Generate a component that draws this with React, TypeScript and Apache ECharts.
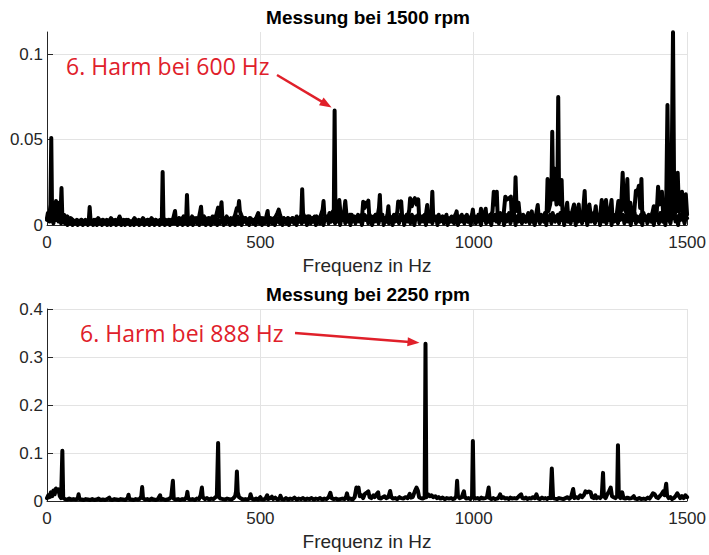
import React, { useEffect, useRef } from "react";
import * as echarts from "echarts";

const topTitle = "Messung bei 1500 rpm";
const bottomTitle = "Messung bei 2250 rpm";
const xAxisLabel = "Frequenz in Hz";
const xTicks = [0, 500, 1000, 1500];
const topYTicks = [0, 0.05, 0.1];
const bottomYTicks = [0, 0.1, 0.2, 0.3, 0.4];
const topNote = "6. Harm bei 600 Hz";
const bottomNote = "6. Harm bei 888 Hz";
const topPeak = [674, 0.067];
const bottomPeak = [887, 0.3275];

// [frequency in Hz, magnitude] — 1500 rpm
const topSpectrum = [
  [0, 0.004], [2, 0.007], [5, 0.003], [8, 0.012], [10, 0.051], [12, 0.004], [15, 0.01], [18, 0.006], [21, 0.014], [23, 0.008],
  [26, 0.013], [29, 0.005], [32, 0.009], [34, 0.0216], [36, 0.004], [40, 0.006], [44, 0.003], [48, 0.005], [52, 0.002], [56, 0.004],
  [60, 0.003], [65, 0.002], [70, 0.003], [75, 0.002], [80, 0.003], [85, 0.002], [90, 0.003], [95, 0.002], [98, 0.003], [100, 0.0105],
  [102, 0.003], [106, 0.002], [110, 0.003], [115, 0.002], [120, 0.004], [125, 0.002], [130, 0.003], [135, 0.002], [140, 0.003], [145, 0.002],
  [150, 0.004], [155, 0.002], [160, 0.003], [165, 0.002], [170, 0.005], [175, 0.002], [180, 0.003], [185, 0.002], [190, 0.003], [195, 0.002],
  [200, 0.002], [205, 0.004], [210, 0.002], [215, 0.003], [220, 0.002], [225, 0.004], [230, 0.002], [235, 0.003], [240, 0.002], [245, 0.004],
  [250, 0.002], [255, 0.003], [260, 0.002], [265, 0.003], [269, 0.002], [271, 0.031], [273, 0.002], [278, 0.003], [283, 0.002], [288, 0.003],
  [292, 0.002], [296, 0.004], [300, 0.0082], [302, 0.003], [306, 0.002], [310, 0.004], [315, 0.003], [320, 0.005], [326, 0.003], [328, 0.0176],
  [330, 0.004], [335, 0.003], [340, 0.005], [345, 0.002], [350, 0.004], [355, 0.003], [359, 0.008], [361, 0.0107], [363, 0.004], [368, 0.005],
  [373, 0.003], [378, 0.004], [383, 0.002], [388, 0.005], [393, 0.003], [397, 0.006], [401, 0.0102], [404, 0.005], [407, 0.009], [409, 0.0133],
  [411, 0.004], [416, 0.003], [421, 0.005], [426, 0.002], [431, 0.004], [436, 0.003], [441, 0.006], [445, 0.01], [448, 0.009], [450, 0.014],
  [452, 0.008], [455, 0.006], [460, 0.003], [465, 0.004], [470, 0.002], [475, 0.004], [480, 0.003], [485, 0.002], [490, 0.004], [495, 0.007],
  [498, 0.003], [503, 0.004], [508, 0.002], [513, 0.004], [517, 0.0082], [519, 0.003], [524, 0.004], [529, 0.002], [534, 0.004], [540, 0.007],
  [543, 0.009], [546, 0.006], [550, 0.003], [555, 0.004], [560, 0.002], [565, 0.004], [570, 0.003], [575, 0.004], [580, 0.002], [585, 0.005],
  [590, 0.003], [594, 0.004], [596, 0.006], [598, 0.021], [600, 0.007], [603, 0.004], [607, 0.003], [612, 0.005], [617, 0.002], [622, 0.004],
  [627, 0.003], [632, 0.005], [637, 0.002], [642, 0.006], [646, 0.009], [648, 0.014], [650, 0.006], [654, 0.004], [658, 0.003], [662, 0.007],
  [666, 0.004], [670, 0.008], [672, 0.005], [674, 0.067], [676, 0.006], [680, 0.007], [683, 0.009], [685, 0.0146], [688, 0.006], [692, 0.004],
  [696, 0.007], [699, 0.014], [702, 0.005], [706, 0.003], [710, 0.006], [715, 0.002], [720, 0.004], [725, 0.003], [730, 0.005], [735, 0.004],
  [739, 0.007], [741, 0.0136], [744, 0.01], [747, 0.013], [750, 0.011], [753, 0.0143], [755, 0.006], [760, 0.004], [765, 0.003], [770, 0.006],
  [774, 0.004], [778, 0.01], [780, 0.0176], [782, 0.005], [786, 0.003], [790, 0.004], [795, 0.003], [798, 0.006], [800, 0.011], [802, 0.004],
  [807, 0.003], [812, 0.005], [817, 0.003], [821, 0.008], [823, 0.0138], [826, 0.011], [830, 0.0138], [832, 0.006], [836, 0.004], [841, 0.003],
  [846, 0.005], [849, 0.009], [851, 0.0157], [855, 0.011], [858, 0.014], [862, 0.0157], [866, 0.012], [870, 0.015], [872, 0.005], [877, 0.003],
  [882, 0.005], [887, 0.004], [889, 0.008], [891, 0.0117], [893, 0.004], [898, 0.003], [901, 0.008], [903, 0.0195], [905, 0.005], [910, 0.003],
  [915, 0.004], [920, 0.002], [925, 0.003], [930, 0.002], [935, 0.004], [940, 0.002], [945, 0.003], [950, 0.002], [955, 0.004], [960, 0.008],
  [962, 0.003], [967, 0.002], [972, 0.004], [977, 0.002], [982, 0.003], [987, 0.002], [992, 0.004], [996, 0.006], [998, 0.009], [1000, 0.004],
  [1005, 0.002], [1010, 0.003], [1015, 0.005], [1017, 0.0095], [1020, 0.004], [1025, 0.006], [1028, 0.0095], [1030, 0.004], [1035, 0.003], [1040, 0.005],
  [1044, 0.008], [1047, 0.0195], [1050, 0.012], [1054, 0.0195], [1056, 0.006], [1060, 0.004], [1065, 0.003], [1070, 0.006], [1074, 0.0166], [1078, 0.015],
  [1082, 0.0155], [1087, 0.0166], [1089, 0.006], [1093, 0.005], [1096, 0.01], [1098, 0.0279], [1100, 0.012], [1103, 0.008], [1105, 0.013], [1108, 0.005],
  [1112, 0.003], [1117, 0.004], [1122, 0.002], [1127, 0.004], [1132, 0.003], [1136, 0.008], [1138, 0.004], [1142, 0.003], [1146, 0.006], [1150, 0.0117],
  [1152, 0.005], [1157, 0.003], [1162, 0.005], [1167, 0.004], [1171, 0.008], [1173, 0.0269], [1175, 0.008], [1179, 0.012], [1182, 0.02], [1184, 0.0546],
  [1186, 0.015], [1188, 0.025], [1190, 0.033], [1192, 0.018], [1194, 0.012], [1196, 0.02], [1198, 0.075], [1200, 0.016], [1203, 0.012], [1206, 0.0263],
  [1208, 0.008], [1212, 0.005], [1216, 0.008], [1219, 0.013], [1221, 0.006], [1225, 0.004], [1230, 0.007], [1235, 0.012], [1238, 0.006], [1242, 0.005],
  [1246, 0.012], [1248, 0.005], [1252, 0.004], [1256, 0.007], [1260, 0.0199], [1262, 0.007], [1266, 0.004], [1271, 0.012], [1274, 0.006], [1278, 0.005],
  [1282, 0.004], [1286, 0.011], [1288, 0.004], [1292, 0.003], [1296, 0.005], [1300, 0.0146], [1303, 0.006], [1306, 0.005], [1310, 0.0146], [1313, 0.006],
  [1318, 0.005], [1323, 0.0146], [1325, 0.005], [1330, 0.004], [1335, 0.006], [1339, 0.014], [1341, 0.006], [1345, 0.008], [1349, 0.0306], [1352, 0.01],
  [1356, 0.008], [1360, 0.0269], [1362, 0.009], [1365, 0.006], [1367, 0.013], [1370, 0.005], [1375, 0.004], [1380, 0.02], [1383, 0.018], [1387, 0.023],
  [1390, 0.01], [1393, 0.027], [1395, 0.006], [1400, 0.004], [1405, 0.003], [1410, 0.005], [1415, 0.003], [1418, 0.006], [1422, 0.011], [1425, 0.005],
  [1429, 0.008], [1432, 0.0224], [1435, 0.012], [1438, 0.015], [1441, 0.0195], [1444, 0.006], [1448, 0.007], [1451, 0.012], [1454, 0.0702], [1457, 0.008],
  [1460, 0.006], [1463, 0.01], [1467, 0.1128], [1470, 0.006], [1474, 0.008], [1478, 0.0306], [1481, 0.008], [1485, 0.01], [1488, 0.0195], [1491, 0.006],
  [1494, 0.009], [1497, 0.018], [1500, 0.006],
];

// noise floor of the 1500 rpm spectrum, one value per 3 Hz bin from 0 Hz, in units of 0.001
const topFloorStepHz = 3;
const topFloor = [
  3, 5, 2, 6, 4, 1, 5, 3, 6, 2, 4, 1, 3, 2, 1, 2, 0, 2, 1, 3, 0, 2, 1, 2, 0,
  2, 1, 3, 0, 2, 1, 2, 0, 3, 1, 2, 0, 1, 3, 0, 2, 1, 2, 0, 3, 1, 2, 0, 1, 2,
  0, 3, 1, 2, 0, 2, 1, 3, 0, 1, 2, 0, 3, 1, 2, 0, 2, 1, 0, 3, 1, 2, 0, 2, 1,
  3, 0, 2, 1, 3, 0, 2, 1, 2, 0, 3, 1, 2, 0, 3, 1, 2, 0, 2, 1, 3, 0, 2, 1, 4,
  1, 3, 0, 4, 1, 2, 0, 3, 1, 4, 0, 2, 1, 3, 0, 4, 2, 1, 3, 0, 2, 4, 1, 3, 0,
  3, 1, 4, 0, 2, 3, 1, 4, 0, 3, 1, 2, 4, 0, 3, 1, 4, 2, 0, 3, 1, 4, 0, 2, 5,
  1, 4, 0, 3, 2, 4, 1, 3, 0, 4, 2, 1, 3, 0, 4, 2, 1, 3, 0, 4, 1, 2, 3, 0, 4,
  2, 1, 4, 0, 3, 2, 4, 1, 3, 0, 4, 2, 1, 4, 0, 3, 2, 4, 1, 3, 0, 4, 2, 5, 1,
  4, 2, 5, 0, 3, 5, 1, 4, 2, 5, 0, 3, 4, 1, 5, 2, 0, 4, 3, 5, 1, 4, 2, 5, 3,
  1, 5, 2, 6, 0, 4, 3, 6, 1, 5, 2, 4, 0, 6, 3, 5, 1, 4, 6, 2, 5, 0, 4, 6, 3,
  5, 1, 6, 3, 0, 5, 2, 6, 4, 1, 5, 3, 6, 0, 4, 2, 6, 1, 5, 3, 0, 6, 2, 5, 4,
  1, 6, 3, 5, 0, 4, 6, 2, 5, 1, 6, 3, 0, 5, 4, 6, 1, 3, 5, 2, 6, 0, 4, 5, 2,
  6, 1, 4, 3, 5, 0, 6, 2, 4, 5, 1, 3, 6, 0, 4, 2, 5, 3, 1, 6, 4, 0, 5, 2, 6,
  3, 1, 5, 6, 2, 4, 0, 6, 3, 5, 1, 4, 6, 2, 0, 5, 3, 6, 1, 4, 2, 6, 0, 5, 3,
  6, 2, 5, 1, 7, 3, 4, 0, 6, 2, 5, 7, 1, 4, 3, 6, 0, 5, 2, 7, 3, 1, 6, 4, 2,
  5, 7, 1, 4, 6, 2, 0, 5, 7, 3, 1, 6, 4, 2, 7, 0, 5, 3, 6, 1, 7, 4, 2, 5, 6,
  1, 7, 3, 5, 0, 6, 4, 2, 7, 1, 5, 3, 6, 0, 7, 2, 4, 5, 1, 6, 3, 7, 0, 4, 5,
  2, 6, 7, 1, 4, 3, 6, 0, 5, 7, 2, 4, 1, 6, 3, 7, 0, 5, 2, 6, 4, 1, 7, 3, 5,
  6, 1, 4, 7, 2, 5, 0, 6, 3, 7, 1, 5, 4, 2, 6, 0, 7, 3, 5, 1, 6, 4, 2, 7, 0,
  5, 3, 6, 1, 7, 4, 2, 6, 0, 5, 7, 3, 1, 6, 4, 7, 2, 5, 0, 6, 3, 7, 4, 1, 5,
  4,
];

// [frequency in Hz, magnitude] — 2250 rpm
const bottomSpectrum = [
  [0, 0.006], [3, 0.012], [6, 0.008], [9, 0.018], [12, 0.01], [15, 0.022], [18, 0.014], [21, 0.026], [24, 0.02], [27, 0.024],
  [30, 0.01], [33, 0.006], [36, 0.1045], [38, 0.006], [42, 0.004], [47, 0.003], [52, 0.005], [57, 0.003], [62, 0.004], [67, 0.003],
  [72, 0.005], [74, 0.014], [76, 0.004], [81, 0.003], [86, 0.002], [91, 0.004], [96, 0.003], [101, 0.002], [106, 0.004], [111, 0.002],
  [116, 0.003], [121, 0.005], [126, 0.002], [131, 0.003], [136, 0.002], [141, 0.004], [146, 0.007], [148, 0.003], [153, 0.002], [158, 0.004],
  [163, 0.003], [168, 0.002], [173, 0.004], [178, 0.003], [183, 0.002], [189, 0.006], [191, 0.013], [193, 0.004], [198, 0.003], [203, 0.002],
  [208, 0.004], [213, 0.003], [218, 0.005], [221, 0.01], [223, 0.029], [225, 0.006], [230, 0.003], [235, 0.004], [240, 0.002], [245, 0.005],
  [250, 0.003], [255, 0.002], [260, 0.004], [265, 0.012], [267, 0.003], [272, 0.004], [277, 0.002], [282, 0.003], [287, 0.005], [291, 0.008],
  [295, 0.042], [297, 0.005], [302, 0.003], [307, 0.004], [312, 0.002], [317, 0.004], [322, 0.003], [327, 0.008], [329, 0.019], [331, 0.005],
  [336, 0.003], [341, 0.004], [346, 0.002], [351, 0.005], [356, 0.004], [360, 0.012], [363, 0.028], [365, 0.008], [370, 0.004], [375, 0.006],
  [380, 0.003], [385, 0.005], [390, 0.004], [395, 0.008], [398, 0.01], [401, 0.121], [403, 0.008], [407, 0.005], [412, 0.004], [417, 0.003],
  [422, 0.005], [427, 0.004], [432, 0.003], [437, 0.006], [441, 0.01], [443, 0.02], [445, 0.0614], [447, 0.018], [450, 0.008], [455, 0.005],
  [460, 0.003], [465, 0.004], [470, 0.003], [475, 0.006], [477, 0.014], [480, 0.005], [485, 0.003], [490, 0.005], [495, 0.003], [500, 0.008],
  [502, 0.004], [507, 0.003], [512, 0.005], [516, 0.012], [518, 0.004], [523, 0.006], [527, 0.009], [530, 0.004], [535, 0.007], [540, 0.003],
  [545, 0.005], [547, 0.011], [550, 0.004], [555, 0.003], [560, 0.006], [565, 0.003], [570, 0.005], [575, 0.004], [580, 0.007], [585, 0.003],
  [590, 0.005], [595, 0.004], [600, 0.006], [605, 0.003], [610, 0.005], [615, 0.004], [620, 0.006], [625, 0.003], [630, 0.005], [635, 0.004],
  [640, 0.006], [645, 0.003], [650, 0.005], [655, 0.004], [660, 0.008], [664, 0.017], [667, 0.006], [672, 0.004], [677, 0.005], [682, 0.003],
  [687, 0.004], [692, 0.005], [697, 0.004], [701, 0.009], [703, 0.016], [706, 0.004], [711, 0.005], [716, 0.003], [721, 0.008], [725, 0.028],
  [728, 0.026], [730, 0.028], [733, 0.01], [737, 0.012], [741, 0.006], [745, 0.015], [750, 0.018], [753, 0.02], [756, 0.008], [760, 0.006],
  [765, 0.012], [768, 0.008], [772, 0.014], [776, 0.018], [778, 0.006], [782, 0.005], [787, 0.008], [791, 0.01], [795, 0.006], [800, 0.008],
  [804, 0.021], [807, 0.008], [811, 0.005], [816, 0.006], [821, 0.004], [826, 0.008], [830, 0.006], [835, 0.005], [840, 0.008], [845, 0.006],
  [850, 0.015], [853, 0.007], [857, 0.008], [862, 0.02], [866, 0.028], [869, 0.022], [872, 0.008], [876, 0.006], [880, 0.005], [885, 0.007],
  [887, 0.3275], [889, 0.008], [893, 0.014], [897, 0.01], [901, 0.012], [905, 0.008], [910, 0.01], [914, 0.006], [918, 0.008], [922, 0.005],
  [927, 0.007], [932, 0.004], [937, 0.006], [942, 0.005], [947, 0.006], [951, 0.004], [955, 0.005], [959, 0.01], [961, 0.042], [963, 0.01],
  [967, 0.006], [972, 0.008], [975, 0.016], [977, 0.02], [979, 0.008], [983, 0.005], [988, 0.006], [992, 0.004], [996, 0.008], [998, 0.1248],
  [1000, 0.008], [1004, 0.005], [1009, 0.006], [1014, 0.004], [1018, 0.007], [1022, 0.005], [1027, 0.006], [1031, 0.008], [1035, 0.028], [1037, 0.006],
  [1041, 0.004], [1046, 0.006], [1050, 0.004], [1055, 0.005], [1059, 0.008], [1062, 0.014], [1065, 0.006], [1070, 0.008], [1074, 0.005], [1078, 0.006],
  [1082, 0.004], [1086, 0.007], [1090, 0.005], [1095, 0.006], [1100, 0.005], [1104, 0.008], [1108, 0.012], [1111, 0.014], [1114, 0.006], [1118, 0.005],
  [1122, 0.007], [1126, 0.004], [1130, 0.006], [1134, 0.005], [1138, 0.008], [1143, 0.006], [1147, 0.014], [1150, 0.006], [1155, 0.004], [1160, 0.007],
  [1164, 0.005], [1168, 0.006], [1172, 0.004], [1176, 0.007], [1180, 0.006], [1183, 0.0677], [1186, 0.006], [1190, 0.005], [1195, 0.004], [1200, 0.006],
  [1205, 0.005], [1210, 0.004], [1215, 0.006], [1220, 0.008], [1224, 0.005], [1228, 0.008], [1233, 0.025], [1236, 0.006], [1240, 0.008], [1245, 0.006],
  [1250, 0.012], [1254, 0.008], [1258, 0.012], [1262, 0.02], [1266, 0.018], [1270, 0.02], [1274, 0.018], [1277, 0.008], [1281, 0.006], [1285, 0.012],
  [1288, 0.006], [1292, 0.008], [1296, 0.006], [1300, 0.01], [1303, 0.0586], [1305, 0.01], [1309, 0.006], [1313, 0.014], [1317, 0.02], [1321, 0.028],
  [1324, 0.01], [1328, 0.008], [1332, 0.006], [1336, 0.01], [1338, 0.1164], [1340, 0.01], [1344, 0.006], [1348, 0.018], [1351, 0.006], [1355, 0.005],
  [1360, 0.007], [1365, 0.005], [1370, 0.006], [1375, 0.01], [1378, 0.005], [1383, 0.004], [1388, 0.006], [1393, 0.004], [1398, 0.005], [1403, 0.004],
  [1408, 0.007], [1412, 0.005], [1416, 0.01], [1420, 0.016], [1424, 0.014], [1428, 0.008], [1432, 0.006], [1436, 0.01], [1440, 0.014], [1444, 0.02],
  [1447, 0.012], [1449, 0.024], [1451, 0.036], [1453, 0.012], [1457, 0.006], [1461, 0.008], [1465, 0.004], [1469, 0.006], [1473, 0.01], [1477, 0.016],
  [1480, 0.012], [1484, 0.006], [1488, 0.01], [1492, 0.006], [1496, 0.012], [1500, 0.008],
];

const AXIS = "#262626";
const GRIDC = "#e3e3e3";
const RED = "#e0202a";
const FONT = "Liberation Sans";

function makeArrow(x1: number, y1: number, x2: number, y2: number) {
  const dx = x2 - x1;
  const dy = y2 - y1;
  const len = Math.hypot(dx, dy);
  const ux = dx / len;
  const uy = dy / len;
  const hl = 12;
  const hw = 4.5;
  const bx = x2 - ux * hl;
  const by = y2 - uy * hl;
  return [
    {
      type: "line",
      shape: { x1, y1, x2: bx + ux * 2, y2: by + uy * 2 },
      style: { stroke: RED, lineWidth: 2.5 },
      silent: true,
    },
    {
      type: "polygon",
      shape: {
        points: [
          [x2, y2],
          [bx - uy * hw, by + ux * hw],
          [bx + uy * hw, by - ux * hw],
        ],
      },
      style: { fill: RED },
      silent: true,
    },
  ];
}

function xAxisFor(gridIndex: number) {
  return {
    type: "value",
    gridIndex,
    min: xTicks[0],
    max: xTicks[xTicks.length - 1],
    interval: 500,
    name: xAxisLabel,
    nameLocation: "middle",
    nameGap: 31,
    nameTextStyle: { fontSize: 19, color: AXIS, fontFamily: FONT },
    axisLine: { show: true, lineStyle: { color: AXIS, width: 1 } },
    axisTick: { show: true, inside: true, length: 6, lineStyle: { color: AXIS } },
    axisLabel: {
      fontSize: 17,
      color: AXIS,
      margin: 9,
      fontFamily: FONT,
      formatter: (v: number) => String(v),
    },
    splitLine: { show: true, lineStyle: { color: GRIDC, width: 1 } },
  };
}

const lineStyle = { color: "#000", width: 4, cap: "round", join: "round" };

export default function App() {
  const ref = useRef<HTMLDivElement>(null);
  useEffect(() => {
    if (!ref.current) return;
    const chart = echarts.init(ref.current, null, { renderer: "svg" });
    const topFloorData = topFloor.map((v, i) => [i * topFloorStepHz, v / 1000]);
    const option: any = {
      animation: false,
      backgroundColor: "#ffffff",
      textStyle: { fontFamily: FONT },
      title: [
        {
          text: topTitle,
          left: 363,
          top: 3,
          textAlign: "center",
          textStyle: { fontSize: 19, fontWeight: "bold", color: "#000", fontFamily: FONT },
        },
        {
          text: bottomTitle,
          left: 363,
          top: 280,
          textAlign: "center",
          textStyle: { fontSize: 19, fontWeight: "bold", color: "#000", fontFamily: FONT },
        },
      ],
      grid: [
        { left: 47, width: 643, top: 32, height: 193 },
        { left: 47, width: 643, top: 309, height: 192 },
      ],
      xAxis: [xAxisFor(0), xAxisFor(1)],
      yAxis: [
        {
          type: "value",
          gridIndex: 0,
          min: 0,
          max: 0.113,
          interval: 0.05,
          axisLine: { show: true, lineStyle: { color: AXIS, width: 1 } },
          axisTick: { show: true, inside: true, length: 6, lineStyle: { color: AXIS }, customValues: topYTicks },
          axisLabel: { fontSize: 17, color: AXIS, margin: 4, fontFamily: FONT, customValues: topYTicks },
          splitLine: { show: true, lineStyle: { color: GRIDC, width: 1 } },
        },
        {
          type: "value",
          gridIndex: 1,
          min: bottomYTicks[0],
          max: bottomYTicks[bottomYTicks.length - 1],
          interval: 0.1,
          axisLine: { show: true, lineStyle: { color: AXIS, width: 1 } },
          axisTick: { show: true, inside: true, length: 6, lineStyle: { color: AXIS } },
          axisLabel: { fontSize: 17, color: AXIS, margin: 4, fontFamily: FONT },
          splitLine: { show: true, lineStyle: { color: GRIDC, width: 1 } },
        },
      ],
      series: [
        {
          type: "line",
          xAxisIndex: 0,
          yAxisIndex: 0,
          data: topFloorData,
          showSymbol: false,
          symbol: "none",
          lineStyle,
          silent: true,
        },
        {
          type: "line",
          xAxisIndex: 0,
          yAxisIndex: 0,
          data: topSpectrum,
          showSymbol: false,
          symbol: "none",
          lineStyle,
          silent: true,
        },
        {
          type: "line",
          xAxisIndex: 1,
          yAxisIndex: 1,
          data: bottomSpectrum,
          showSymbol: false,
          symbol: "none",
          lineStyle,
          silent: true,
        },
      ],
    };
    chart.setOption(option);

    const p1 = chart.convertToPixel({ gridIndex: 0 }, topPeak) as number[];
    const p2 = chart.convertToPixel({ gridIndex: 1 }, bottomPeak) as number[];
    chart.setOption({
      graphic: [
        {
          type: "text",
          x: 66,
          y: 66,
          style: {
            text: topNote,
            fill: RED,
            font: '23px "Open Sans"',
            textAlign: "left",
            textVerticalAlign: "middle",
          },
          silent: true,
        },
        {
          type: "text",
          x: 80,
          y: 333,
          style: {
            text: bottomNote,
            fill: RED,
            font: '23px "Open Sans"',
            textAlign: "left",
            textVerticalAlign: "middle",
          },
          silent: true,
        },
        ...makeArrow(277, 75, p1[0] - 3, p1[1] - 3),
        ...makeArrow(295, 333, p2[0] - 6, p2[1] - 1),
      ],
    });

    return () => {
      chart.dispose();
    };
  }, []);

  return (
    <div
      ref={ref}
      style={{ position: "fixed", left: 0, top: 0, width: 709, height: 555, background: "#fff" }}
    />
  );
}
